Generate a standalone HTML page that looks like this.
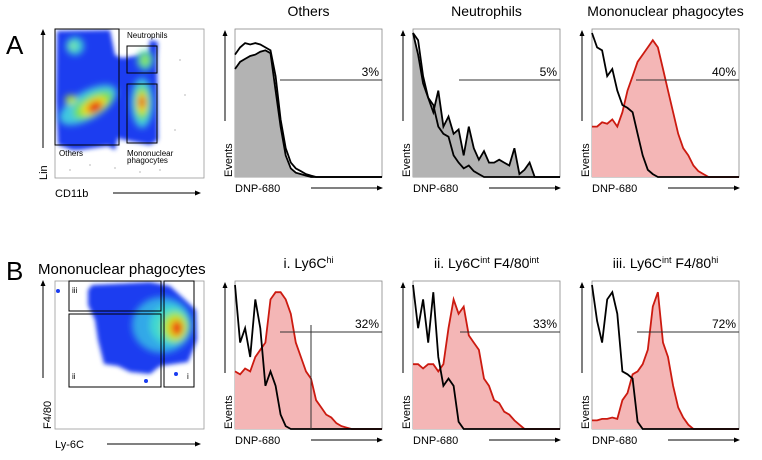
<!DOCTYPE html>
<html><head><meta charset="utf-8">
<style>
body{margin:0;background:#fff;}
svg{display:block;font-family:"Liberation Sans",Arial,sans-serif;}
</style></head>
<body>
<svg id="fig" width="762" height="460" viewBox="0 0 762 460">
<defs>
<filter id="bl" x="-20%" y="-20%" width="140%" height="140%"><feGaussianBlur stdDeviation="3.5"/></filter>
<filter id="bl2" x="-20%" y="-20%" width="140%" height="140%"><feGaussianBlur stdDeviation="2"/></filter>
<marker id="ar" markerWidth="6" markerHeight="6" refX="5" refY="3" orient="auto"><path d="M0,0.5 L6,3 L0,5.5z" fill="#000"/></marker>
<clipPath id="cA"><rect x="55" y="29" width="149" height="149"/></clipPath>
<clipPath id="cB"><rect x="55" y="281" width="149" height="148"/></clipPath>
</defs>
<text x="6" y="54" font-size="26">A</text>
<text x="6" y="280" font-size="26">B</text>
<text x="38" y="274" font-size="15">Mononuclear phagocytes</text>

<!-- Dot plot A -->
<g>
<rect x="55" y="29" width="149" height="149" fill="#fff" stroke="#999" stroke-width="0.8"/>
<g clip-path="url(#cA)">
<g fill="#888">
<circle cx="130" cy="160" r="0.6"/><circle cx="160" cy="170" r="0.6"/><circle cx="90" cy="165" r="0.6"/><circle cx="180" cy="60" r="0.6"/><circle cx="175" cy="130" r="0.6"/><circle cx="70" cy="170" r="0.6"/><circle cx="140" cy="172" r="0.6"/><circle cx="185" cy="95" r="0.6"/><circle cx="115" cy="168" r="0.6"/>
</g>
<g filter="url(#bl2)">
<path d="M57,31 L110,30 L115,55 L122,58 L148,54 L150,40 L158,42 L157,60 L158,140 L150,145 L125,140 L118,138 L115,150 L108,146 L80,150 L72,150 L58,145 L56,100z" fill="#1a3cf0"/>
</g>
<g filter="url(#bl)">
<ellipse cx="75" cy="46" rx="9" ry="9" fill="#3ac9d8"/>
<ellipse cx="73" cy="46" rx="4" ry="4" fill="#80e8a0"/>
<ellipse cx="88" cy="105" rx="32" ry="14" fill="#40c8e0" transform="rotate(-30 88 105)"/>
<ellipse cx="93" cy="105" rx="22" ry="10" fill="#70e050" transform="rotate(-30 93 105)"/>
<ellipse cx="94" cy="106" rx="14" ry="7" fill="#f0e020" transform="rotate(-30 94 106)"/>
<ellipse cx="95" cy="107" rx="8" ry="5" fill="#e81010" transform="rotate(-30 95 107)"/>
<ellipse cx="71" cy="100" rx="6" ry="5" fill="#b0e040"/>
<ellipse cx="145" cy="60" rx="8" ry="10" fill="#50d8b0"/>
<ellipse cx="145" cy="60" rx="4" ry="5" fill="#90e040"/>
<ellipse cx="142" cy="103" rx="11" ry="25" fill="#40c8e0"/>
<ellipse cx="142" cy="103" rx="7" ry="17" fill="#70e050"/>
<ellipse cx="142" cy="103" rx="5" ry="11" fill="#f0e020"/>
<ellipse cx="142" cy="102" rx="3" ry="6" fill="#e81010"/>
</g>
</g>
<rect x="55" y="29" width="64" height="116" fill="none" stroke="#000"/>
<rect x="127" y="46" width="30" height="27" fill="none" stroke="#000"/>
<rect x="127" y="84" width="30" height="59" fill="none" stroke="#000"/>
<text x="127" y="38" font-size="8">Neutrophils</text>
<text x="59" y="156" font-size="8">Others</text>
<text x="127" y="156" font-size="8">Mononuclear</text>
<text x="127" y="163" font-size="8">phagocytes</text>
<line x1="43" y1="148" x2="43" y2="30" stroke="#000" marker-end="url(#ar)"/>
<text transform="translate(47,180) rotate(-90)" font-size="11">Lin</text>
<text x="55" y="197" font-size="11">CD11b</text>
<line x1="113" y1="193" x2="200" y2="193" stroke="#000" marker-end="url(#ar)"/>
</g>

<!-- Dot plot B -->
<g>
<rect x="55" y="281" width="149" height="148" fill="#fff" stroke="#999" stroke-width="0.8"/>
<g clip-path="url(#cB)">
<g filter="url(#bl2)">
<path d="M88,290 L92,285 L150,282 L170,286 L196,310 L197,340 L188,362 L160,366 L150,374 L130,372 L118,366 L104,364 L98,340 L95,320 L88,305z" fill="#1a3cf0"/>
</g>
<g filter="url(#bl)">
<ellipse cx="162" cy="325" rx="30" ry="28" fill="#30a8e8"/>
<ellipse cx="170" cy="325" rx="20" ry="20" fill="#40d8d0"/>
<ellipse cx="175" cy="327" rx="13" ry="15" fill="#a0e830"/>
<ellipse cx="176" cy="328" rx="8" ry="10" fill="#f0d020"/>
<ellipse cx="177" cy="328" rx="5" ry="7" fill="#e81010"/>
</g>
<circle cx="58" cy="291" r="2" fill="#1a3cf0"/>
<circle cx="146" cy="381" r="2" fill="#1a3cf0"/>
<circle cx="176" cy="374" r="2" fill="#1a3cf0"/>
</g>
<rect x="69" y="281" width="92" height="30" fill="none" stroke="#000"/>
<rect x="69" y="314" width="92" height="73" fill="none" stroke="#000"/>
<rect x="164" y="281" width="30" height="106" fill="none" stroke="#000"/>
<text x="72" y="293" font-size="8">iii</text>
<text x="72" y="379" font-size="8">ii</text>
<text x="187" y="379" font-size="8">i</text>
<line x1="43" y1="378" x2="43" y2="281" stroke="#000" marker-end="url(#ar)"/>
<text transform="translate(51,429) rotate(-90)" font-size="11">F4/80</text>
<text x="55" y="448" font-size="11">Ly-6C</text>
<line x1="107" y1="444" x2="200" y2="444" stroke="#000" marker-end="url(#ar)"/>
</g>

<g id="hists"></g>
</svg>
<script>
const othersFill=[0.75,0.8,0.82,0.84,0.85,0.87,0.88,0.86,0.6,0.35,0.15,0.06,0.03,0.02,0.01,0,0,0,0,0,0,0,0,0,0,0,0,0,0,0];
const othersLine=[0.85,0.9,0.93,0.92,0.93,0.92,0.9,0.88,0.7,0.4,0.2,0.1,0.06,0.04,0.02,0.01,0,0,0,0,0,0,0,0,0,0,0,0,0,0];
const neutLine=[1.0,0.95,0.7,0.55,0.5,0.35,0.3,0.28,0.15,0.1,0.06,0.08,0.04,0.02,0,0,0,0,0,0,0,0,0,0,0,0,0,0,0,0];
const neutFill=[1,0.85,0.65,0.55,0.45,0.6,0.35,0.42,0.3,0.33,0.15,0.35,0.2,0.12,0.18,0.1,0.1,0.12,0.1,0.08,0.2,0.02,0.05,0.1,0,0,0,0,0,0];
const monoCtrl=[1,0.9,0.88,0.7,0.75,0.6,0.5,0.48,0.45,0.3,0.15,0.05,0.02,0,0,0,0,0,0,0,0,0,0,0,0,0,0,0,0,0];
const monoDnp=[0.35,0.35,0.38,0.37,0.4,0.35,0.45,0.6,0.7,0.8,0.85,0.9,0.95,0.9,0.75,0.6,0.45,0.3,0.2,0.15,0.08,0.04,0.02,0,0,0,0,0,0,0];
const iCtrl=[1,0.6,0.7,0.5,0.9,0.7,0.3,0.4,0.3,0.1,0.02,0,0,0,0,0,0,0,0,0,0,0,0,0,0,0,0,0,0,0];
const iDnp=[0.4,0.38,0.42,0.4,0.5,0.55,0.6,0.9,0.95,0.95,0.9,0.8,0.6,0.5,0.4,0.35,0.2,0.15,0.1,0.08,0.04,0.02,0.01,0,0,0,0,0,0,0];
const iiCtrl=[1,0.7,0.9,0.6,0.95,0.5,0.3,0.35,0.3,0.05,0,0,0,0,0,0,0,0,0,0,0,0,0,0,0,0,0,0,0,0];
const iiDnp=[0.45,0.45,0.42,0.45,0.45,0.4,0.45,0.7,0.9,0.8,0.85,0.65,0.6,0.55,0.35,0.3,0.2,0.18,0.12,0.1,0.06,0.03,0,0,0,0,0,0,0,0];
const iiiCtrl=[1,0.75,0.6,0.9,0.95,0.8,0.4,0.38,0.35,0.05,0,0,0,0,0,0,0,0,0,0,0,0,0,0,0,0,0,0,0,0];
const iiiDnp=[0.06,0.06,0.07,0.07,0.08,0.07,0.2,0.25,0.38,0.4,0.45,0.55,0.85,0.95,0.6,0.5,0.3,0.15,0.08,0.03,0,0,0,0,0,0,0,0,0,0];
const titles=["Others","Neutrophils","Mononuclear phagocytes","i. Ly6C<tspan baseline-shift='super' font-size='9'>hi</tspan>","ii. Ly6C<tspan baseline-shift='super' font-size='9'>int</tspan> F4/80<tspan baseline-shift='super' font-size='9'>int</tspan>","iii. Ly6C<tspan baseline-shift='super' font-size='9'>int</tspan> F4/80<tspan baseline-shift='super' font-size='9'>hi</tspan>"];
const pcts=["3%","5%","40%","32%","33%","72%"];

const NS="http://www.w3.org/2000/svg";
const root=document.getElementById('hists');
const panels=[
 {x:235,y:29,fill:othersFill,line:othersLine,fc:"#b3b3b3",sc:"#000",lc:"#000",gx:280,gy:80},
 {x:413,y:29,fill:neutFill,line:neutLine,fc:"#b3b3b3",sc:"#000",lc:"#000",gx:459,gy:80},
 {x:592,y:29,fill:monoDnp,line:monoCtrl,fc:"#f4b6b6",sc:"#cc1a10",lc:"#000",gx:636,gy:80},
 {x:235,y:281,fill:iDnp,line:iCtrl,fc:"#f4b6b6",sc:"#cc1a10",lc:"#000",gx:280,gy:332,vx:311},
 {x:413,y:281,fill:iiDnp,line:iiCtrl,fc:"#f4b6b6",sc:"#cc1a10",lc:"#000",gx:460,gy:332},
 {x:592,y:281,fill:iiiDnp,line:iiiCtrl,fc:"#f4b6b6",sc:"#cc1a10",lc:"#000",gx:637,gy:332}
];
const W=147,H=148;
function mk(tag,attrs,parent){const e=document.createElementNS(NS,tag);for(const k in attrs)e.setAttribute(k,attrs[k]);parent.appendChild(e);return e;}
panels.forEach((p,k)=>{
 const g=mk('g',{},root);
 
 
 const sx=i=>p.x+i*W/(p.fill.length-1);
 const sy=v=>p.y+H-v*(H-4);
 mk('rect',{x:p.x,y:p.y,width:W,height:H,fill:'#fff',stroke:'#888','stroke-width':0.8},g);
 let d='M'+sx(0)+','+sy(0);
 p.fill.forEach((v,i)=>{d+=' L'+sx(i).toFixed(1)+','+sy(v).toFixed(1);});
 const area=mk('path',{d:d+' L'+sx(p.fill.length-1)+','+sy(0)+'Z',fill:p.fc},g);
 
 
 const l1=mk('path',{d:'M'+p.fill.map((v,i)=>sx(i).toFixed(1)+','+sy(v).toFixed(1)).join(' L'),fill:'none',stroke:p.sc,'stroke-width':1.8},g);
 
 
 const l2=mk('path',{d:'M'+p.line.map((v,i)=>sx(i).toFixed(1)+','+sy(v).toFixed(1)).join(' L'),fill:'none',stroke:p.lc,'stroke-width':1.8},g);
 
 
 const gl=mk('line',{x1:p.gx,y1:p.gy,x2:p.x+W,y2:p.gy,stroke:'#333','stroke-width':1},g);
 
 
 if(p.vx){mk('line',{x1:p.vx,y1:p.gy-7,x2:p.vx,y2:p.y+H,stroke:'#333','stroke-width':1},g);}
 const pt=mk('text',{x:p.x+W-3,y:p.gy-4,'font-size':12,'text-anchor':'end'},g);
 pt.textContent=pcts[k];
 
 
 const tt=mk('text',{x:p.x+W/2,y:p.y-13,'font-size':14,'text-anchor':'middle'},g);
 tt.innerHTML=titles[k];
 
 
 mk('line',{x1:p.x-10,y1:p.y+92,x2:p.x-10,y2:p.y+2,stroke:'#000','marker-end':'url(#ar)'},g);
 const yt=mk('text',{transform:'translate('+(p.x-3)+','+(p.y+H)+') rotate(-90)','font-size':11},g);
 yt.textContent='Events';
 
 
 const xt=mk('text',{x:p.x,y:p.y+H+15,'font-size':11},g);
 xt.textContent='DNP-680';
 
 
 mk('line',{x1:p.x+76,y1:p.y+H+11,x2:p.x+W,y2:p.y+H+11,stroke:'#000','marker-end':'url(#ar)'},g);
});
</script>
</body></html>
